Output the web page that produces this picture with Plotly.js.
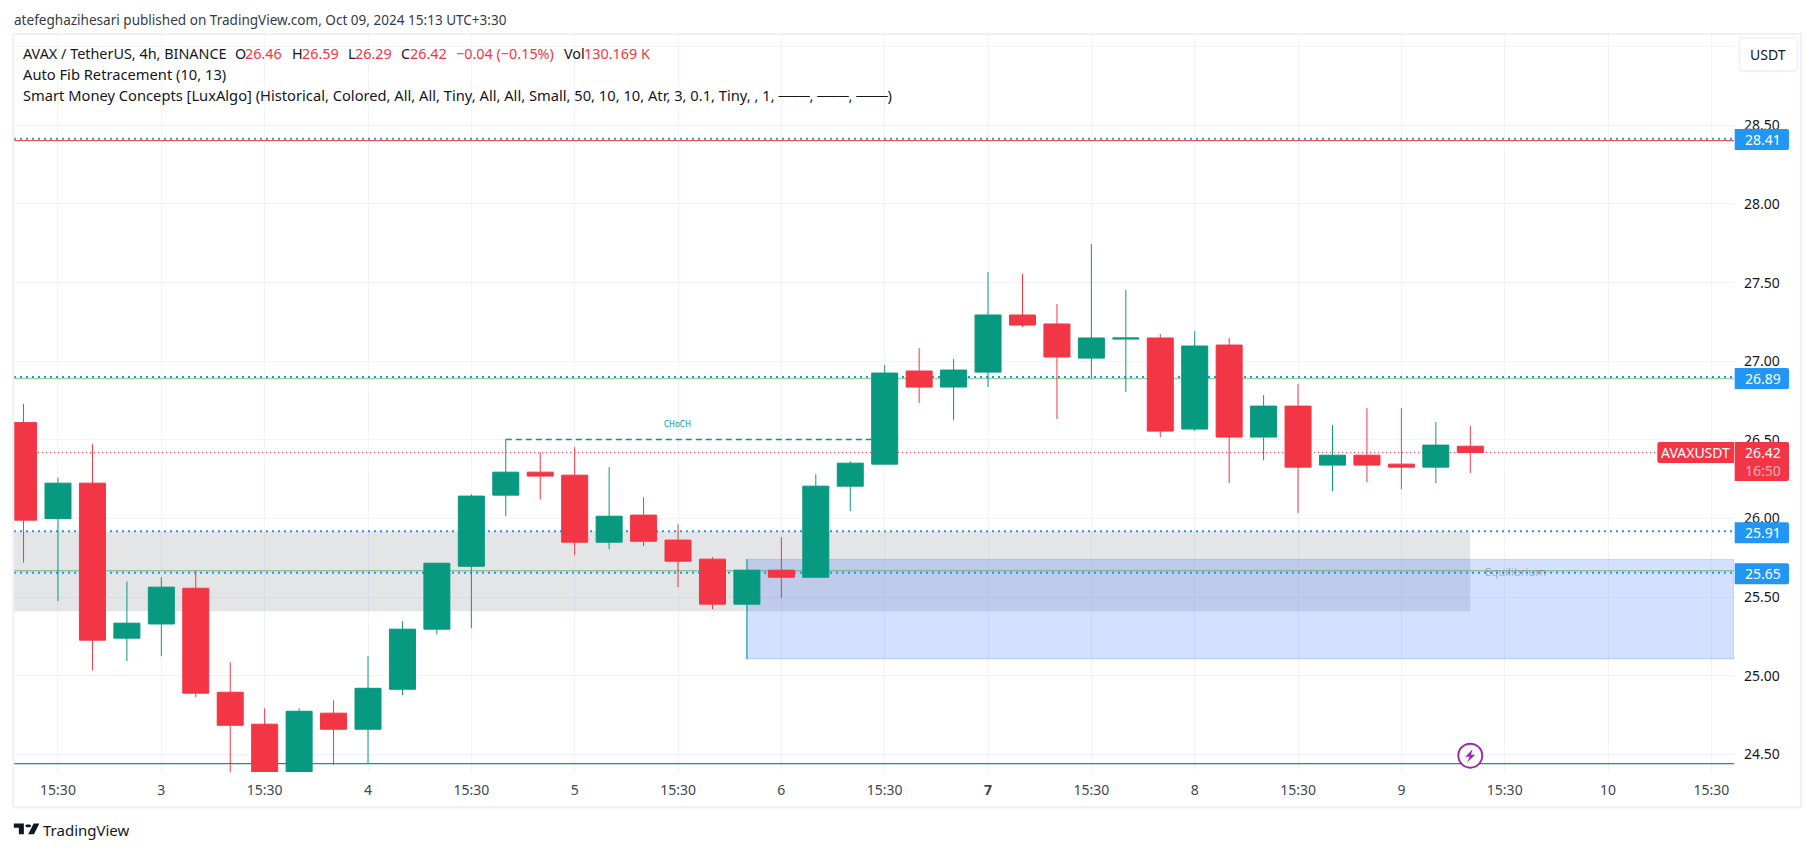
<!DOCTYPE html>
<html><head><meta charset="utf-8">
<script src="https://cdn.plot.ly/plotly-3.0.1.min.js"></script>
<style>html,body{margin:0;padding:0;background:#fff;overflow:hidden}#chart{width:1814px;height:851px}</style>
</head><body><div id="chart"></div>
<script>
// ---- candle data ----
const candleTimes = ['2024-10-02 11:30','2024-10-02 15:30','2024-10-02 19:30','2024-10-02 23:30','2024-10-03 03:30','2024-10-03 07:30','2024-10-03 11:30','2024-10-03 15:30','2024-10-03 19:30','2024-10-03 23:30','2024-10-04 03:30','2024-10-04 07:30','2024-10-04 11:30','2024-10-04 15:30','2024-10-04 19:30','2024-10-04 23:30','2024-10-05 03:30','2024-10-05 07:30','2024-10-05 11:30','2024-10-05 15:30','2024-10-05 19:30','2024-10-05 23:30','2024-10-06 03:30','2024-10-06 07:30','2024-10-06 11:30','2024-10-06 15:30','2024-10-06 19:30','2024-10-06 23:30','2024-10-07 03:30','2024-10-07 07:30','2024-10-07 11:30','2024-10-07 15:30','2024-10-07 19:30','2024-10-07 23:30','2024-10-08 03:30','2024-10-08 07:30','2024-10-08 11:30','2024-10-08 15:30','2024-10-08 19:30','2024-10-08 23:30','2024-10-09 03:30','2024-10-09 07:30','2024-10-09 11:30'];
const opens  = [26.61,26.00,26.225,25.24,25.33,25.557,24.896,24.693,24.36,24.763,24.661,24.915,25.297,25.697,26.149,26.295,26.276,25.85,26.022,25.863,25.742,25.456,25.672,25.627,26.206,26.346,26.938,26.836,26.931,27.294,27.237,27.02,27.141,27.148,26.569,27.103,26.518,26.715,26.34,26.403,26.346,26.327,26.46];
const highs  = [26.73,26.26,26.473,25.60,25.627,25.67,25.087,24.794,24.794,24.845,25.125,25.348,25.716,26.155,26.503,26.42,26.454,26.327,26.136,25.964,25.755,25.742,25.882,26.282,26.365,26.976,27.084,27.014,27.567,27.555,27.364,27.745,27.453,27.173,27.192,27.148,26.785,26.855,26.594,26.702,26.702,26.613,26.59];
const lows   = [25.72,25.475,25.036,25.093,25.125,24.864,24.37,24.30,24.30,24.432,24.442,24.877,25.265,25.303,26.015,26.123,25.767,25.805,25.825,25.564,25.424,25.106,25.494,25.627,26.047,26.346,26.734,26.626,26.836,27.217,26.632,26.89,26.804,26.518,26.556,26.225,26.371,26.034,26.174,26.231,26.187,26.225,26.29];
const closes = [25.99,26.225,25.227,25.335,25.564,24.89,24.686,24.36,24.775,24.661,24.921,25.297,25.716,26.143,26.295,26.27,25.85,26.015,25.856,25.729,25.456,25.672,25.627,26.206,26.352,26.925,26.836,26.944,27.294,27.23,27.027,27.148,27.148,26.556,27.097,26.518,26.715,26.327,26.403,26.34,26.327,26.467,26.42];

// ---- axis ticks ----
const xTickVals = ['2024-10-02 15:30','2024-10-03 03:30','2024-10-03 15:30','2024-10-04 03:30','2024-10-04 15:30','2024-10-05 03:30','2024-10-05 15:30','2024-10-06 03:30','2024-10-06 15:30','2024-10-07 03:30','2024-10-07 15:30','2024-10-08 03:30','2024-10-08 15:30','2024-10-09 03:30','2024-10-09 15:30','2024-10-10 03:30','2024-10-10 15:30'];
const xTickText = ['15:30','3','15:30','4','15:30','5','15:30','6','15:30','<b>7</b>','15:30','8','15:30','9','15:30','10','15:30'];
const yTickVals = [24.5,25,25.5,26,26.5,27,27.5,28,28.5,29];
const yTickText = ['24.50','25.00','25.50','26.00','26.50','27.00','27.50','28.00','28.50',''];

// ---- levels ----
const fibLevels = [28.415,26.90,25.92,25.655];
const fibLabels = ['28.41','26.89','25.91','25.65'];
const swingHigh = 28.403, swingMid = 26.889, eqLine = 25.668, swingLow = 24.442;
const lastPrice = 26.42;
const chochLevel = 26.503;
const greyZone = [25.411,25.92];
const blueZone = [25.108,25.74];

const X_RANGE = ['2024-10-02 10:23:30','2024-10-10 18:07:20'];
const Y_RANGE = [24.389,29.074];
const L=13.5,R=1734,T=35,B=771.7;
const px=x=>(x-L)/(R-L), py=y=>(B-y)/(B-T);
const FONT='"Noto Sans", sans-serif';
const DARK='#131722', RED='#F23645', GREEN='#089981', BLUE='#2196F3';

const shapes=[];
const anns=[];
const hline=(y,color,width,dash,x0,x1,layer)=>shapes.push({type:'line',xref:'x',yref:'y',x0:x0||X_RANGE[0],x1:x1||X_RANGE[1],y0:y,y1:y,layer:layer||'between',line:{color,width,dash:dash||'solid'}});
// zones
shapes.push({type:'rect',xref:'x',yref:'y',layer:'between',x0:X_RANGE[0],x1:candleTimes[42],y0:greyZone[0],y1:greyZone[1],fillcolor:'rgba(120,123,134,0.2)',line:{width:0}});
shapes.push({type:'rect',xref:'x',yref:'y',layer:'between',x0:candleTimes[21],x1:X_RANGE[1],y0:blueZone[0],y1:blueZone[1],fillcolor:'rgba(41,98,255,0.2)',line:{width:1,color:'rgba(41,98,255,0.2)'}});
// lines
hline(swingHigh,'#F44336',1); hline(swingMid,'#81C784',1); hline(eqLine,'#6DAF6B',1); hline(swingLow,GREEN,1.4);
fibLevels.forEach(v=>hline(v,BLUE,2,'2px,4px'));
hline(lastPrice,RED,1,'1px,3px');
hline(chochLevel,'#089981',1.5,'6px,4px',candleTimes[14],candleTimes[25]);
// frame
shapes.push({type:'rect',xref:'paper',yref:'paper',layer:'above',x0:px(12.8),x1:px(1801),y0:py(807),y1:py(34),line:{color:'#F0F0F6',width:2},fillcolor:'rgba(0,0,0,0)'});

function rr(x0,y0,x1,y1,rl,rrr){ // pixel offsets, y up; y0<y1
  return `M${x0+rl},${y0} L${x1-rrr},${y0} Q${x1},${y0} ${x1},${y0+rrr} L${x1},${y1-rrr} Q${x1},${y1} ${x1-rrr},${y1} L${x0+rl},${y1} Q${x0},${y1} ${x0},${y1-rl} L${x0},${y0+rl} Q${x0},${y0} ${x0+rl},${y0} Z`;
}
function pill(xLeft,price,x1,y0,y1,rl,rrr,color){
  shapes.push({type:'path',layer:'above',xref:'paper',yref:'y',xsizemode:'pixel',ysizemode:'pixel',xanchor:px(xLeft),yanchor:price,path:rr(0,y0,x1,y1,rl,rrr),fillcolor:color,line:{width:0}});
}
const ann=(text,x,y,o)=>anns.push(Object.assign({text,x:px(x),y:py(y),xref:'paper',yref:'paper',xanchor:'left',yanchor:'middle',showarrow:false,borderpad:0,borderwidth:0,font:{family:FONT,size:14.7,color:DARK}},o||{}));
// price tags
fibLabels.forEach((t,i)=>{
  const v=parseFloat(t);
  pill(1734.7,v,54.3,-10.5,10.5,0,2,BLUE);
  anns.push({text:t,xref:'paper',yref:'y',x:px(1763.5),y:v,xanchor:'center',yanchor:'middle',showarrow:false,borderpad:0,borderwidth:0,font:{family:FONT,size:14,color:'#fff'}});
});
pill(1734.7,lastPrice,54.3,-28.6,10.4,0,2,RED);
pill(1657.3,lastPrice,76.7,-10.6,10.4,2,0,RED);
anns.push({text:'26.42',xref:'paper',yref:'y',x:px(1763.5),y:lastPrice,xanchor:'center',yanchor:'middle',showarrow:false,borderpad:0,borderwidth:0,font:{family:FONT,size:14,color:'#fff'}});
anns.push({text:'16:50',xref:'paper',yref:'y',x:px(1763.5),y:lastPrice,yshift:-18,xanchor:'center',yanchor:'middle',showarrow:false,borderpad:0,borderwidth:0,font:{family:FONT,size:14,color:'rgba(255,255,255,0.6)'}});
anns.push({text:'AVAXUSDT',xref:'paper',yref:'y',x:px(1695.5),y:lastPrice,xanchor:'center',yanchor:'middle',showarrow:false,borderpad:0,borderwidth:0,font:{family:FONT,size:14,color:'#fff'}});
// currency button
shapes.push({type:'path',layer:'above',xref:'paper',yref:'paper',xsizemode:'pixel',ysizemode:'pixel',xanchor:px(1739.5),yanchor:py(71),path:rr(0,0,58,33,4,4),fillcolor:'#fff',line:{color:'#F0F3FA',width:2}});
ann('USDT',1768.5,54,{xanchor:'center',font:{family:FONT,size:14,color:DARK}});
// header + legend
ann('atefeghazihesari published on TradingView.com, Oct 09, 2024 15:13 UTC+3:30',13,20,{font:{family:FONT,size:13.55,color:'#363A45'}});
const legend1=[['AVAX / TetherUS, 4h, BINANCE',23,DARK],['O',235,DARK],['26.46',245,RED],['H',291.7,DARK],['26.59',301.7,RED],['L',347.3,DARK],['26.29',355,RED],['C',400.7,DARK],['26.42',409.3,RED],['−0.04 (−0.15%)',455.7,RED],['Vol',563.3,DARK],['130.169 K',584,RED]];
legend1.forEach(s=>ann(s[0],s[1],53,{font:{family:FONT,size:14.4,color:s[2]}}));
ann('Auto Fib Retracement (10, 13)',23,74);
ann('Smart Money Concepts [LuxAlgo] (Historical, Colored, All, All, Tiny, All, All, Small, 50, 10, 10, Atr, 3, 0.1, Tiny, , 1, ───, ───, ───)',23,95);
ann('CHoCH',677.2,423,{xanchor:'center',font:{family:FONT,size:8,color:GREEN}});
ann('Equilibrium',1485,571,{font:{family:FONT,size:11.3,color:'rgba(120,123,134,0.55)'}});
ann('TradingView',43,830,{font:{family:FONT,size:15,color:DARK}});
// lightning marker
const anchorX=candleTimes[42];
shapes.push({type:'circle',layer:'above',xref:'x',yref:'y',xsizemode:'pixel',ysizemode:'pixel',xanchor:anchorX,yanchor:24.493,x0:-12,x1:12,y0:-12,y1:12,fillcolor:'#fff',line:{color:'#9C27B0',width:2}});
shapes.push({type:'path',layer:'above',xref:'x',yref:'y',xsizemode:'pixel',ysizemode:'pixel',xanchor:anchorX,yanchor:24.493,path:'M2.3,6.3 L-5,-1 L-0.7,-1 L-3,-6.7 L5,1 L0.7,1 Z',fillcolor:'#9C27B0',line:{width:0}});
// logo
const lg=(x,y)=>`${(x*0.72).toFixed(2)},${((22-y)*0.6).toFixed(2)}`;
shapes.push({type:'path',layer:'above',xref:'paper',yref:'paper',xsizemode:'pixel',ysizemode:'pixel',xanchor:px(13.3),yanchor:py(834),
 path:`M${lg(14,22)} L${lg(7,22)} L${lg(7,11)} L${lg(0,11)} L${lg(0,4)} L${lg(14,4)} Z M${lg(28,22)} L${lg(20,22)} L${lg(27.5,4)} L${lg(35.5,4)} Z M${lg(16,8)} C${lg(16,5)} ${lg(24,5)} ${lg(24,8)} C${lg(24,11)} ${lg(16,11)} ${lg(16,8)} Z`,fillcolor:DARK,line:{width:0}});

const trace={type:'candlestick',x:candleTimes,open:opens,high:highs,low:lows,close:closes,
  increasing:{line:{color:GREEN,width:1},fillcolor:GREEN},decreasing:{line:{color:RED,width:1},fillcolor:RED},whiskerwidth:0,hoverinfo:'skip',showlegend:false};
const layout={width:1814,height:851,autosize:false,margin:{l:L,r:1814-R,t:T,b:851-B,pad:0},paper_bgcolor:'#fff',plot_bgcolor:'#fff',showlegend:false,boxgap:0.245,boxgroupgap:0,
  font:{family:FONT,size:14,color:DARK},
  xaxis:{type:'date',range:X_RANGE,rangeslider:{visible:false},tickmode:'array',tickvals:xTickVals,ticktext:xTickText,showgrid:true,gridcolor:'#F0F3FA',gridwidth:1,zeroline:false,showline:false,ticks:'',ticklabelstandoff:8,tickfont:{family:FONT,size:14,color:'#42464F'},fixedrange:true},
  yaxis:{side:'right',range:Y_RANGE,tickmode:'array',tickvals:yTickVals,ticktext:yTickText,showgrid:true,gridcolor:'#F2F3F5',gridwidth:1,zeroline:false,showline:false,ticks:'',ticklabelstandoff:9,tickfont:{family:FONT,size:14,color:DARK},fixedrange:true},
  shapes,annotations:anns};
Plotly.newPlot('chart',[trace],layout,{displayModeBar:false,staticPlot:true});
</script></body></html>
